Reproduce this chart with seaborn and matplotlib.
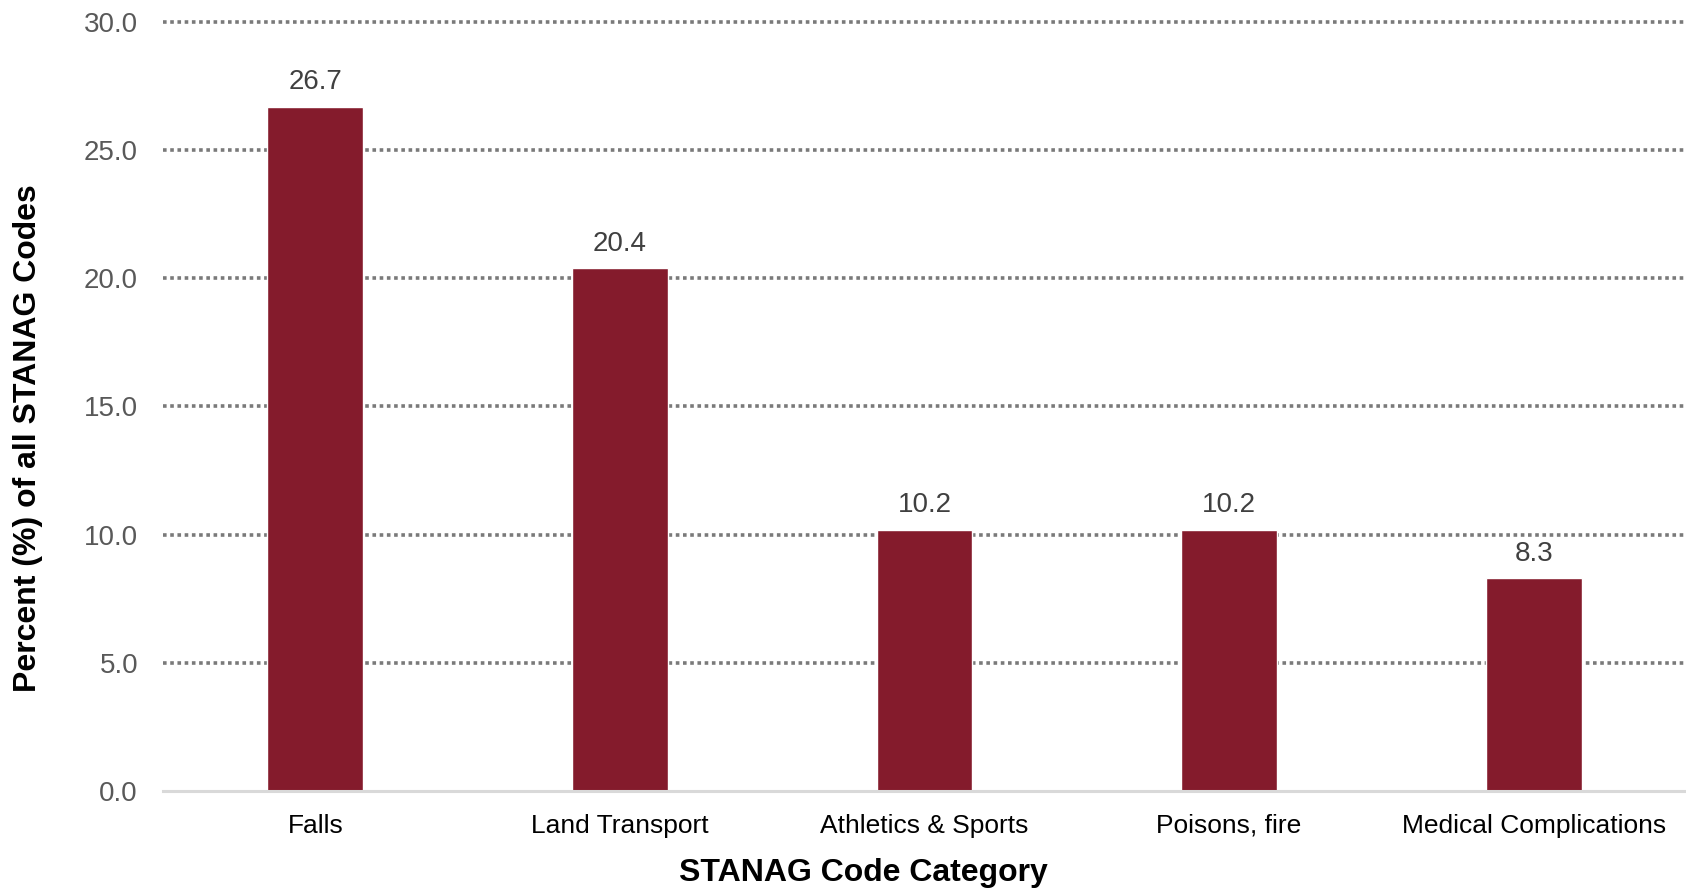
import seaborn as sns
import matplotlib.pyplot as plt
import pandas as pd

categories = ['Falls', 'Land Transport', 'Athletics & Sports', 'Poisons, fire', 'Medical Complications']
percents = [26.7, 20.4, 10.2, 10.2, 8.3]
yticks = [0, 5, 10, 15, 20, 25, 30]

sns.set_style('white')
plt.rcParams['font.family'] = ['Liberation Sans', 'DejaVu Sans']

df = pd.DataFrame({'category': categories, 'percent': percents})

fig = plt.figure(figsize=(16.86, 8.89), dpi=100)
ax = fig.add_axes([163 / 1686, 1 - 791 / 889, 1 - 163 / 1686, (791 - 22) / 889])

sns.barplot(data=df, x='category', y='percent', color='#841B2C', width=0.315,
            saturation=1, ax=ax, zorder=3)

ax.set_ylim(0, 30)
ax.set_xlim(-0.5, 4.5)
ax.set_yticks(yticks)
ax.set_yticklabels([f'{t:.1f}' for t in yticks])
ax.yaxis.grid(True, color='#7A7A7A', linestyle=(0, (1, 1)), linewidth=2.6, zorder=0)
ax.set_axisbelow(True)
grid = ax.yaxis.get_gridlines()
grid[0].set_visible(False)
for g in grid:
    g.set_clip_on(False)
for s in ['top', 'right', 'left']:
    ax.spines[s].set_visible(False)
ax.spines['bottom'].set_color('#D9D9D9')
ax.spines['bottom'].set_linewidth(2.2)
ax.spines['bottom'].set_zorder(4)

ax.tick_params(axis='y', length=0, pad=18, labelsize=20, labelcolor='#595959')
ax.tick_params(axis='x', length=0, pad=30, labelsize=19, labelcolor='black')
for lab in ax.get_xticklabels():
    lab.set_va('baseline')
ax.set_xlabel('')
ax.set_ylabel('')

for i, v in enumerate(percents):
    ax.text(i, v + 0.45, f'{v:.1f}', ha='center', va='bottom', fontsize=20, color='#404040')

fig.text(863 / 1686, 1 - 873 / 889, 'STANAG Code Category', ha='center', va='center',
         fontsize=23, fontweight='bold', color='black')
fig.text(28 / 1686, 1 - 438 / 889, 'Percent (%) of all STANAG Codes', ha='center', va='center',
         rotation=90, fontsize=23, fontweight='bold', color='black')

fig.savefig('out.png', dpi=100)
